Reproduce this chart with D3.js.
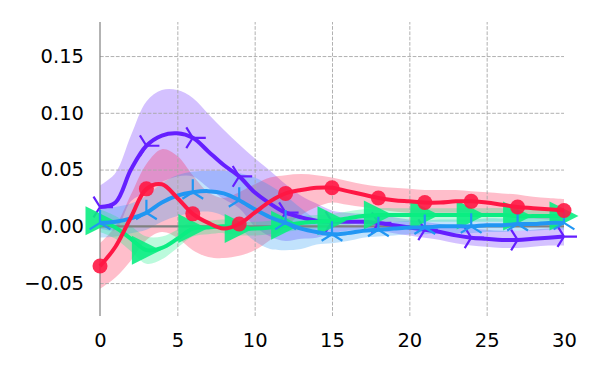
<!DOCTYPE html>
<html><head><meta charset="utf-8">
<script src="https://cdn.jsdelivr.net/npm/d3@7"></script>
<style>body{margin:0;background:#fff}svg{display:block}</style>
</head><body>
<svg id="c" width="600" height="375"></svg>
<script>
const xs = [0,1,2,3,4,5,6,7,8,9,10,11,12,13,14,15,16,17,18,19,20,21,22,23,24,25,26,27,28,29,30];
const xTicks = [0,5,10,15,20,25,30];
const yTicks = [-0.05,0,0.05,0.1,0.15];

const purpleMean = [0.017,0.021,0.050,0.071,0.080,0.082,0.078,0.066,0.054,0.044,0.030,0.020,0.012,0.008,0.005,0.004,0.004,0.004,0.003,0.001,-0.001,-0.003,-0.005,-0.008,-0.010,-0.011,-0.012,-0.012,-0.011,-0.010,-0.009];
const purpleHi = [0.036,0.047,0.080,0.110,0.120,0.120,0.113,0.099,0.085,0.072,0.060,0.049,0.037,0.027,0.020,0.014,0.012,0.011,0.010,0.008,0.006,0.004,0.002,0.000,-0.002,-0.003,-0.004,-0.004,-0.003,-0.002,-0.001];
const purpleLo = [-0.002,-0.003,0.022,0.030,0.039,0.044,0.044,0.034,0.024,0.016,0.000,-0.009,-0.013,-0.011,-0.010,-0.006,-0.004,-0.003,-0.004,-0.006,-0.008,-0.010,-0.012,-0.015,-0.017,-0.018,-0.019,-0.019,-0.018,-0.017,-0.017];

const redMean = [-0.035,-0.018,0.008,0.033,0.037,0.025,0.011,0.003,-0.002,0.002,0.012,0.022,0.029,0.032,0.034,0.034,0.031,0.028,0.025,0.023,0.022,0.021,0.021,0.022,0.022,0.021,0.019,0.017,0.016,0.015,0.014];
const redHi = [-0.015,0.000,0.028,0.055,0.068,0.062,0.045,0.030,0.025,0.030,0.037,0.043,0.045,0.046,0.045,0.043,0.040,0.037,0.035,0.034,0.033,0.032,0.032,0.032,0.031,0.030,0.029,0.028,0.026,0.025,0.024];
const redLo = [-0.055,-0.045,-0.030,-0.012,-0.005,-0.010,-0.021,-0.027,-0.028,-0.026,-0.021,-0.012,0.000,0.010,0.017,0.021,0.019,0.017,0.015,0.013,0.012,0.012,0.012,0.012,0.012,0.011,0.010,0.008,0.007,0.006,0.005];

const blueMean = [0.003,0.004,0.007,0.012,0.021,0.027,0.030,0.031,0.029,0.023,0.015,0.008,0.003,-0.002,-0.005,-0.007,-0.006,-0.004,-0.003,-0.002,-0.001,-0.001,0.000,0.000,0.000,0.001,0.001,0.002,0.002,0.003,0.003];
const blueHi = [0.016,0.017,0.020,0.027,0.038,0.045,0.048,0.049,0.049,0.047,0.043,0.036,0.027,0.016,0.006,0.001,0.001,0.002,0.003,0.004,0.005,0.005,0.006,0.006,0.006,0.007,0.007,0.008,0.008,0.009,0.009];
const blueLo = [-0.010,-0.009,-0.006,-0.003,0.004,0.009,0.012,0.013,0.009,-0.001,-0.013,-0.020,-0.021,-0.020,-0.016,-0.015,-0.013,-0.010,-0.009,-0.008,-0.007,-0.007,-0.006,-0.006,-0.006,-0.005,-0.005,-0.004,-0.004,-0.003,-0.003];

const greenMean = [0.005,-0.001,-0.011,-0.021,-0.019,-0.011,-0.002,-0.001,0.000,-0.002,-0.002,-0.001,0.001,0.003,0.004,0.005,0.007,0.009,0.010,0.010,0.010,0.010,0.010,0.010,0.010,0.010,0.010,0.009,0.009,0.009,0.009];
const greenHi = [0.015,0.009,0.000,-0.009,-0.009,-0.003,0.005,0.005,0.006,0.004,0.004,0.005,0.007,0.009,0.010,0.011,0.013,0.015,0.016,0.016,0.016,0.016,0.016,0.016,0.016,0.016,0.016,0.015,0.015,0.015,0.015];
const greenLo = [-0.005,-0.011,-0.022,-0.033,-0.029,-0.019,-0.009,-0.007,-0.006,-0.008,-0.008,-0.007,-0.005,-0.003,-0.002,-0.001,0.001,0.003,0.004,0.004,0.004,0.004,0.004,0.004,0.004,0.004,0.004,0.003,0.003,0.003,0.003];

const seriesNames = ["purple","green","blue","red"];
const seriesColors = {purple:"#651fff", red:"#ff1744", blue:"#2196f3", green:"#0aed82"};
const seriesMarkers = {purple:"triRight", red:"circle", blue:"triUp", green:"triangleRight"};

const series = {
  purple:{mean:purpleMean, hi:purpleHi, lo:purpleLo},
  red:{mean:redMean, hi:redHi, lo:redLo},
  blue:{mean:blueMean, hi:blueHi, lo:blueLo},
  green:{mean:greenMean, hi:greenHi, lo:greenLo}
};

const W=600,H=375, L=100, R=564, T=22, B=316;
const svg = d3.select("#c");
const x = d3.scaleLinear().domain([0,30]).range([L,R]);
const y = d3.scaleLinear().domain([-0.079,0.18]).range([B,T]);
const font = "DejaVu Sans, sans-serif";
const curve = d3.curveCatmullRom.alpha(0.5);

// bands
const bandOrder = ["purple","red","blue","green"];
bandOrder.forEach(k=>{
  const s = series[k];
  const area = d3.area().curve(curve)
    .x((d,i)=>x(xs[i])).y0((d,i)=>y(s.lo[i])).y1((d,i)=>y(s.hi[i]));
  svg.append("path").datum(xs).attr("d",area).attr("fill",seriesColors[k]).attr("fill-opacity",0.28);
});

// grid
const gx = svg.append("g").attr("transform",`translate(0,${B})`)
  .call(d3.axisBottom(x).tickValues(xTicks).tickSize(-(B-T)).tickPadding(17).tickFormat(d3.format("d")));
gx.select(".domain").remove();
gx.selectAll(".tick line").attr("stroke","#a8a8a8").attr("stroke-width",0.9).attr("stroke-dasharray","3.7,1.6")
  .attr("display",d=>(d===0||d===30)?"none":null);
gx.selectAll("text").attr("font-family",font).attr("font-size",19.5).attr("fill","#000");

const gy = svg.append("g").attr("transform",`translate(${L},0)`)
  .call(d3.axisLeft(y).tickValues(yTicks).tickSize(-(R-L)).tickPadding(16).tickFormat(d3.format(".2f")));
gy.select(".domain").remove();
gy.selectAll(".tick line").attr("stroke","#a8a8a8").attr("stroke-width",0.9).attr("stroke-dasharray","3.7,1.6")
  .attr("display",d=>d===0?"none":null);
gy.selectAll("text").attr("font-family",font).attr("font-size",19.5).attr("fill","#000");

// spine
svg.append("line").attr("x1",L).attr("x2",L).attr("y1",T).attr("y2",B).attr("stroke","#808080").attr("stroke-width",1.2);
// zero line
svg.append("line").attr("x1",L).attr("x2",R).attr("y1",y(0)).attr("y2",y(0)).attr("stroke","#808080").attr("stroke-width",2.2);

// lines and markers
const markerIdx = xs.filter(v=>v%3===0);
function markerPath(type){
  const r=13;
  if(type==="triRight") return `M0,0L${r},0M0,0L${-0.5*r},${-0.8*r}M0,0L${-0.5*r},${0.8*r}`;
  if(type==="triUp") return `M0,0L0,${-r}M0,0L${-0.8*r},${0.5*r}M0,0L${0.8*r},${0.5*r}`;
  if(type==="triangleRight"){const a=14.5; return `M${a},0L${-a},${-a}L${-a},${a}Z`;}
  return null;
}
seriesNames.forEach(k=>{
  const s = series[k], c = seriesColors[k];
  const line = d3.line().curve(curve).x((d,i)=>x(xs[i])).y((d,i)=>y(s.mean[i]));
  const g = svg.append("g");
  g.append("path").datum(xs).attr("d",line).attr("fill","none").attr("stroke",c).attr("stroke-width",4).attr("stroke-linejoin","round");
  const pts = markerIdx.map(v=>({x:v, v:s.mean[xs.indexOf(v)]}));
  const m = seriesMarkers[k];
  if(m==="circle"){
    g.selectAll("circle").data(pts).join("circle").attr("cx",d=>x(d.x)).attr("cy",d=>y(d.v)).attr("r",7.5).attr("fill",c).attr("fill-opacity",0.9);
  } else if(m==="triangleRight"){
    g.selectAll(".mk").data(pts).join("path").attr("class","mk").attr("transform",d=>`translate(${x(d.x)},${y(d.v)})`)
      .attr("d",markerPath(m)).attr("fill",c).attr("fill-opacity",0.9);
  } else {
    g.selectAll(".mk").data(pts).join("path").attr("class","mk").attr("transform",d=>`translate(${x(d.x)},${y(d.v)})`)
      .attr("d",markerPath(m)).attr("fill","none").attr("stroke",c).attr("stroke-width",2.2);
  }
});
</script>
</body></html>
